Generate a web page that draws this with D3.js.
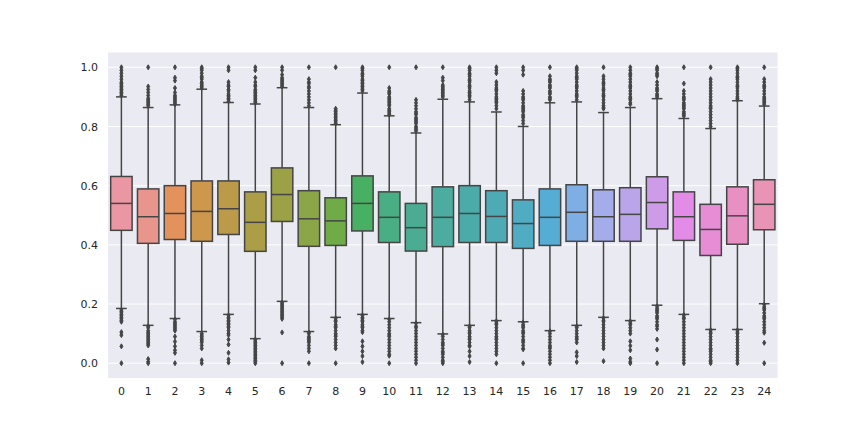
<!DOCTYPE html>
<html>
<head>
<meta charset="utf-8">
<script src="https://cdn.jsdelivr.net/npm/d3@7"></script>
<style>
  body { margin: 0; background: #fff; }
  text { font-family: "DejaVu Sans", sans-serif; }
</style>
</head>
<body>
<svg id="chart" width="864" height="432"></svg>
<script>
// categories on the x axis
var categories = ["0","1","2","3","4","5","6","7","8","9","10","11","12","13","14","15","16","17","18","19","20","21","22","23","24"];

// box statistics
var q1Values  = [0.449,0.405,0.418,0.412,0.435,0.378,0.479,0.395,0.398,0.447,0.408,0.379,0.394,0.408,0.408,0.388,0.398,0.412,0.412,0.412,0.454,0.415,0.364,0.402,0.451];
var medValues = [0.540,0.495,0.506,0.513,0.522,0.476,0.570,0.488,0.481,0.540,0.493,0.458,0.493,0.506,0.496,0.472,0.493,0.510,0.495,0.503,0.543,0.495,0.452,0.498,0.537];
var q3Values  = [0.631,0.589,0.600,0.616,0.616,0.579,0.660,0.583,0.559,0.633,0.579,0.540,0.596,0.600,0.583,0.552,0.589,0.603,0.586,0.593,0.630,0.579,0.537,0.596,0.620];
var whiskerLow  = [0.185,0.128,0.151,0.107,0.165,0.083,0.209,0.107,0.155,0.165,0.151,0.137,0.099,0.128,0.144,0.140,0.110,0.128,0.155,0.144,0.196,0.165,0.114,0.114,0.201];
var whiskerHigh = [0.900,0.864,0.873,0.926,0.881,0.876,0.931,0.864,0.806,0.913,0.836,0.778,0.892,0.883,0.849,0.800,0.880,0.883,0.847,0.864,0.894,0.827,0.793,0.887,0.869];

// outliers above the upper whisker
var highOutliers = [
  [1.0,0.99,0.98,0.97,0.96,0.95,0.945,0.94,0.935,0.93,0.925,0.92,0.915,0.91,0.905],
  [1.0,0.935,0.925,0.915,0.905,0.895,0.89,0.885,0.88,0.875,0.87],
  [1.0,0.965,0.955,0.93,0.915,0.905,0.9,0.895,0.89,0.885,0.88,0.875],
  [1.0,0.995,0.99,0.98,0.97,0.965,0.96,0.95,0.945,0.94,0.935,0.93],
  [1.0,0.99,0.95,0.94,0.935,0.925,0.92,0.91,0.905,0.9,0.895,0.89,0.885],
  [1.0,0.99,0.965,0.95,0.94,0.935,0.925,0.92,0.915,0.91,0.905,0.9,0.895,0.89,0.885,0.88],
  [1.0,0.99,0.975,0.965,0.96,0.955,0.95,0.945,0.94,0.935],
  [1.0,0.96,0.95,0.945,0.935,0.93,0.92,0.91,0.9,0.89,0.88,0.87],
  [1.0,0.86,0.855,0.85,0.845,0.84,0.835,0.83,0.825,0.82,0.815,0.81],
  [1.0,0.995,0.99,0.98,0.975,0.97,0.96,0.955,0.95,0.945,0.94,0.935,0.93,0.925,0.92],
  [1.0,0.93,0.92,0.915,0.91,0.9,0.895,0.89,0.885,0.88,0.875,0.87,0.86,0.855,0.85,0.845,0.84],
  [1.0,0.89,0.88,0.87,0.86,0.85,0.845,0.84,0.83,0.825,0.82,0.815,0.81,0.8,0.795,0.79,0.785],
  [1.0,0.965,0.955,0.94,0.935,0.93,0.925,0.92,0.915,0.91,0.905,0.9],
  [1.0,0.995,0.99,0.98,0.975,0.97,0.96,0.955,0.95,0.94,0.935,0.93,0.92,0.915,0.91,0.905,0.9,0.89],
  [1.0,0.99,0.98,0.95,0.94,0.93,0.925,0.92,0.91,0.9,0.895,0.89,0.885,0.88,0.87,0.86],
  [1.0,0.99,0.975,0.92,0.91,0.9,0.895,0.89,0.88,0.87,0.865,0.86,0.855,0.85,0.84,0.835,0.83,0.82,0.81],
  [1.0,0.97,0.96,0.955,0.95,0.94,0.935,0.93,0.92,0.915,0.91,0.9,0.895,0.89],
  [1.0,0.995,0.99,0.98,0.97,0.965,0.96,0.95,0.94,0.935,0.93,0.92,0.91,0.905,0.9,0.89],
  [1.0,0.97,0.96,0.95,0.945,0.94,0.93,0.925,0.92,0.91,0.905,0.9,0.89,0.88,0.87,0.865,0.86],
  [1.0,0.99,0.98,0.975,0.97,0.96,0.95,0.94,0.935,0.93,0.92,0.91,0.9,0.895,0.89,0.88,0.875],
  [1.0,0.995,0.99,0.98,0.975,0.97,0.95,0.94,0.93,0.925,0.92,0.91,0.905,0.9],
  [1.0,0.945,0.92,0.91,0.9,0.895,0.89,0.88,0.875,0.87,0.865,0.86,0.85,0.845,0.84,0.835],
  [1.0,0.96,0.95,0.94,0.93,0.92,0.91,0.9,0.89,0.88,0.87,0.865,0.86,0.85,0.84,0.83,0.82,0.81,0.8],
  [1.0,0.995,0.99,0.98,0.97,0.965,0.96,0.95,0.94,0.935,0.93,0.92,0.91,0.9,0.895,0.89],
  [1.0,0.96,0.95,0.94,0.935,0.93,0.92,0.91,0.9,0.895,0.89,0.885,0.88,0.875]
];

// outliers below the lower whisker
var lowOutliers = [
  [0.18,0.175,0.17,0.165,0.16,0.155,0.15,0.145,0.14,0.105,0.095,0.057,0.0],
  [0.125,0.12,0.11,0.105,0.1,0.095,0.09,0.085,0.08,0.075,0.07,0.065,0.06,0.014,0.005,0.0],
  [0.148,0.14,0.135,0.13,0.125,0.12,0.115,0.11,0.09,0.073,0.057,0.044,0.035,0.0],
  [0.1,0.095,0.09,0.085,0.08,0.075,0.07,0.06,0.05,0.01,0.0],
  [0.162,0.155,0.15,0.145,0.14,0.135,0.13,0.125,0.12,0.11,0.1,0.095,0.08,0.063,0.035,0.013,0.002],
  [0.08,0.075,0.07,0.065,0.06,0.055,0.05,0.045,0.04,0.035,0.03,0.025,0.02,0.015,0.01,0.005,0.0],
  [0.205,0.2,0.195,0.19,0.185,0.18,0.175,0.17,0.165,0.16,0.155,0.15,0.104,0.0],
  [0.104,0.1,0.09,0.085,0.08,0.075,0.07,0.06,0.05,0.04,0.0],
  [0.152,0.145,0.14,0.13,0.125,0.12,0.11,0.1,0.095,0.09,0.08,0.07,0.06,0.05,0.0],
  [0.162,0.155,0.15,0.145,0.14,0.13,0.125,0.12,0.11,0.105,0.074,0.057,0.04,0.024,0.004],
  [0.148,0.14,0.13,0.12,0.11,0.1,0.095,0.09,0.08,0.07,0.06,0.05,0.04,0.03,0.025,0.0],
  [0.135,0.125,0.12,0.11,0.1,0.09,0.08,0.07,0.06,0.05,0.04,0.03,0.02,0.01,0.0],
  [0.097,0.09,0.08,0.07,0.065,0.06,0.05,0.04,0.035,0.03,0.02,0.01,0.005,0.0],
  [0.125,0.12,0.11,0.105,0.1,0.09,0.085,0.08,0.07,0.06,0.057,0.04,0.024,0.004],
  [0.142,0.135,0.13,0.12,0.11,0.1,0.09,0.085,0.08,0.07,0.06,0.05,0.04,0.03,0.0],
  [0.138,0.13,0.125,0.12,0.11,0.105,0.1,0.09,0.08,0.075,0.07,0.06,0.05,0.047,0.0],
  [0.108,0.1,0.09,0.08,0.07,0.06,0.055,0.05,0.04,0.03,0.02,0.01,0.0],
  [0.125,0.12,0.11,0.1,0.09,0.085,0.08,0.07,0.037,0.024,0.004],
  [0.153,0.145,0.14,0.13,0.12,0.11,0.1,0.09,0.08,0.07,0.06,0.05,0.007],
  [0.142,0.135,0.13,0.12,0.11,0.1,0.074,0.059,0.044,0.016,0.005,0.0],
  [0.192,0.185,0.18,0.175,0.17,0.16,0.155,0.15,0.14,0.13,0.125,0.116,0.08,0.046,0.0],
  [0.163,0.155,0.15,0.14,0.13,0.12,0.11,0.1,0.09,0.08,0.07,0.06,0.05,0.04,0.03,0.02,0.01,0.0],
  [0.112,0.105,0.1,0.09,0.08,0.07,0.06,0.05,0.045,0.04,0.03,0.02,0.01,0.005,0.0],
  [0.112,0.105,0.1,0.09,0.08,0.07,0.06,0.05,0.04,0.03,0.02,0.01,0.0],
  [0.198,0.19,0.185,0.18,0.17,0.16,0.155,0.15,0.14,0.13,0.12,0.11,0.103,0.069,0.0]
];

var yTicks = [0.0,0.2,0.4,0.6,0.8,1.0];

// husl -> rgb (same maths as the palette helper seaborn uses)
var M = [[3.2406,-1.5372,-0.4986],[-0.9689,1.8758,0.0415],[0.0557,-0.2040,1.0570]];
function maxChroma(L,H){
    var hrad = H/360*2*Math.PI, sinH = Math.sin(hrad), cosH = Math.cos(hrad);
    var sub1 = Math.pow(L+16,3)/1560896;
    var sub2 = sub1 > 0.008856 ? sub1 : L/903.3;
    var result = Infinity;
    M.forEach(function(r){
        var tp = (0.99915*r[0] + 1.05122*r[1] + 1.14460*r[2])*sub2;
        var rb = 0.86330*r[2] - 0.17266*r[1];
        var lb = 0.12949*r[2] - 0.38848*r[0];
        var bt = (rb*sinH + lb*cosH)*sub2;
        [0,1].forEach(function(t){
            var C = L*(tp - 1.05122*t)/(bt + 0.17266*sinH*t);
            if(C > 0 && C < result) result = C;
        });
    });
    return result;
}
function huslToRgb(H,S,L){
    var C = maxChroma(L,H)/100*S;
    var hrad = H/360*2*Math.PI;
    var U = Math.cos(hrad)*C, V = Math.sin(hrad)*C;
    var t = (L+16)/116;
    var varY = Math.pow(t,3) > 0.008856 ? Math.pow(t,3) : (116*t-16)/903.3;
    var varU = U/(13*L) + 0.19784, varV = V/(13*L) + 0.46834;
    var Y = varY;
    var X = 0 - (9*Y*varU)/((varU-4)*varV - varU*varV);
    var Z = (9*Y - 15*varV*Y - varV*X)/(3*varV);
    return M.map(function(r){
        var c = r[0]*X + r[1]*Y + r[2]*Z;
        c = c <= 0.0031308 ? 12.92*c : 1.055*Math.pow(c,1/2.4) - 0.055;
        return Math.max(0,Math.min(1,c))*255;
    });
}

var boxColors = categories.map(function(d,i){
    var h = ((i/categories.length + 0.01) % 1)*359;
    var rgb = huslToRgb(h, 0.9*99, 0.7*99);
    var c = d3.hsl(d3.rgb(rgb[0],rgb[1],rgb[2]));
    c.s = c.s*0.75;   // seaborn saturation=.75
    return c;
});
var minL = d3.min(boxColors,function(c){ return c.l; });
var gray = d3.rgb(minL*0.6*255,minL*0.6*255,minL*0.6*255).formatHex();

var boxes = categories.map(function(d,i){
    return {cat:d, q1:q1Values[i], med:medValues[i], q3:q3Values[i],
            lo:whiskerLow[i], hi:whiskerHigh[i],
            fliers:highOutliers[i].concat(lowOutliers[i]), color:boxColors[i]};
});

var plotLeft = 108, plotRight = 777.6, plotTop = 52.5, plotBottom = 378;

var x = d3.scaleBand().domain(categories).range([plotLeft,plotRight]).padding(0);
var y = d3.scaleLinear().domain([-0.05,1.05]).range([plotBottom,plotTop]);

var svg = d3.select("#chart");
svg.append("rect").attr("width",864).attr("height",432).attr("fill","#fff");
svg.append("rect")
    .attr("x",plotLeft).attr("y",plotTop)
    .attr("width",plotRight-plotLeft).attr("height",plotBottom-plotTop)
    .attr("fill","#eaeaf2");

svg.append('g').selectAll('line')
    .data(yTicks)
    .enter()
    .append('line')
    .attr('x1',plotLeft).attr('x2',plotRight)
    .attr('y1',function(d){ return y(d); })
    .attr('y2',function(d){ return y(d); })
    .attr('stroke','#fff')
    .attr('stroke-width',1);

// axes with no tick marks or domain line (seaborn darkgrid)
var yAxis = svg.append('g')
    .attr('transform','translate('+plotLeft+',0)')
    .call(d3.axisLeft(y).tickValues(yTicks).tickFormat(d3.format('.1f')).tickSize(0).tickPadding(10));
var xAxis = svg.append('g')
    .attr('transform','translate(0,'+plotBottom+')')
    .call(d3.axisBottom(x).tickSize(0).tickPadding(9));
[yAxis,xAxis].forEach(function(a){
    a.select('.domain').remove();
    a.selectAll('text').attr('font-size',11).attr('fill','#262626').attr('font-family','"DejaVu Sans", sans-serif');
});

var bw = x.bandwidth()*0.8;
var g = svg.append('g').selectAll('g.box')
    .data(boxes)
    .enter()
    .append('g')
    .attr('class','box')
    .attr('transform',function(d){ return 'translate('+(x(d.cat)+x.bandwidth()/2)+',0)'; });

// whiskers
g.append('line').attr('x1',0).attr('x2',0)
    .attr('y1',function(d){ return y(d.q1); }).attr('y2',function(d){ return y(d.lo); })
    .attr('stroke',gray).attr('stroke-width',1.5);
g.append('line').attr('x1',0).attr('x2',0)
    .attr('y1',function(d){ return y(d.q3); }).attr('y2',function(d){ return y(d.hi); })
    .attr('stroke',gray).attr('stroke-width',1.5);
// caps
g.append('line').attr('x1',-bw/4).attr('x2',bw/4)
    .attr('y1',function(d){ return y(d.lo); }).attr('y2',function(d){ return y(d.lo); })
    .attr('stroke',gray).attr('stroke-width',1.5);
g.append('line').attr('x1',-bw/4).attr('x2',bw/4)
    .attr('y1',function(d){ return y(d.hi); }).attr('y2',function(d){ return y(d.hi); })
    .attr('stroke',gray).attr('stroke-width',1.5);
// box
g.append('rect')
    .attr('x',-bw/2).attr('width',bw)
    .attr('y',function(d){ return y(d.q3); })
    .attr('height',function(d){ return y(d.q1)-y(d.q3); })
    .attr('fill',function(d){ return d.color; })
    .attr('stroke',gray).attr('stroke-width',1.5);
// median
g.append('line').attr('x1',-bw/2).attr('x2',bw/2)
    .attr('y1',function(d){ return y(d.med); }).attr('y2',function(d){ return y(d.med); })
    .attr('stroke',gray).attr('stroke-width',1.5);
// fliers, thin diamonds
g.selectAll('path')
    .data(function(d){ return d.fliers; })
    .enter()
    .append('path')
    .attr('d','M0,-2.5L1.5,0L0,2.5L-1.5,0Z')
    .attr('transform',function(d){ return 'translate(0,'+y(d)+')'; })
    .attr('fill',gray).attr('stroke',gray).attr('stroke-width',1);
</script>
</body>
</html>
